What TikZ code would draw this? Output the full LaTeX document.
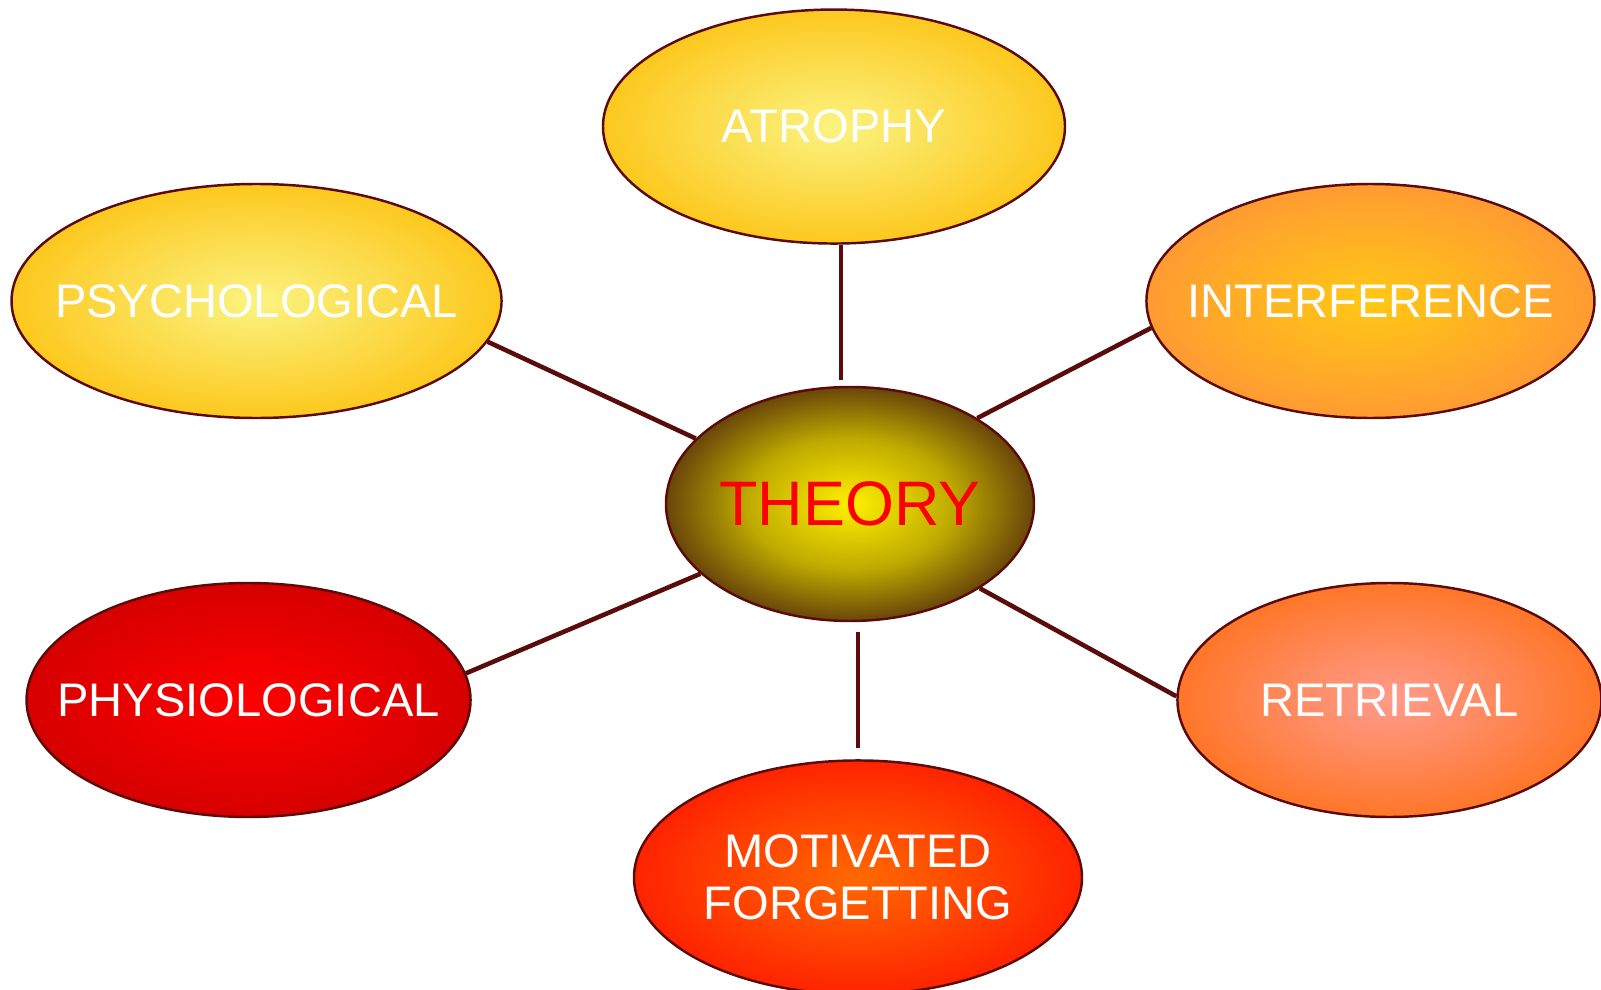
\documentclass[tikz,border=0pt]{standalone}
\usepackage{fontspec}
\setmainfont{Liberation Sans}
\usetikzlibrary{positioning, shapes.geometric}

\definecolor{rimcolor}{RGB}{92,10,10}
\definecolor{linkcolor}{RGB}{90,12,12}
\definecolor{goldin}{RGB}{251,243,128}
\definecolor{goldout}{RGB}{252,200,30}
\definecolor{amberin}{RGB}{255,200,20}
\definecolor{amberout}{RGB}{255,155,50}
\definecolor{salmonin}{RGB}{255,155,140}
\definecolor{salmonout}{RGB}{255,118,40}
\definecolor{flamein}{RGB}{255,105,0}
\definecolor{flameout}{RGB}{255,35,0}
\definecolor{scarletin}{RGB}{255,0,0}
\definecolor{scarletout}{RGB}{214,0,0}
\definecolor{theoryin}{RGB}{255,240,0}
\definecolor{theorymid}{RGB}{190,170,0}
\definecolor{theoryout}{RGB}{105,70,10}

\colorlet{glowin}{white}\colorlet{glowmid}{white}\colorlet{glowout}{white}
\pgfdeclareradialshading[glowin,glowmid,glowout]{glow}{\pgfpoint{0bp}{0bp}}{%
  color(0bp)=(glowin); color(14bp)=(glowmid); color(25bp)=(glowout); color(50bp)=(glowout)}

\begin{document}
\begin{tikzpicture}[
  node distance=1.4cm,
  %% ellipse with radial glow: #1 centre colour, #2 rim colour
  bubble/.style 2 args={ellipse, draw=rimcolor, line width=0.7pt,
               shading=glow,
               /utils/exec={\colorlet{glowin}{#1}\colorlet{glowout}{#2}\colorlet{glowmid}{#1!45!#2}},
               minimum height=2.34cm, inner xsep=-1cm, align=center,
               text=white, font=\fontsize{13.4}{14.7}\selectfont},
  link/.style={line width=1.3pt, draw=linkcolor}
]
\useasboundingbox (0,0) rectangle (16.01,-9.90);

%% ── Centre ───────────────────────────────────────────────────────────────
\node[bubble={theoryin}{theoryout}, minimum width=3.68cm,
      /utils/exec={\colorlet{glowmid}{theorymid}},
      text=red, font=\fontsize{17.9}{20}\selectfont] (theory) at (8.50,-5.04) {THEORY};

%% ── Outer ring ───────────────────────────────────────────────────────────
\node[bubble={goldin}{goldout}, minimum width=4.62cm,
      above=1.41cm of theory, xshift=-0.16cm] (atrophy) {ATROPHY};

\node[bubble={goldin}{goldout}, minimum width=4.90cm,
      left=1.62cm of theory, yshift=2.03cm] (psych) {PSYCHOLOGICAL};

\node[bubble={amberin}{amberout}, minimum width=4.48cm,
      right=1.10cm of theory, yshift=2.03cm] (interf) {INTERFERENCE};

\node[bubble={scarletin}{scarletout}, minimum width=4.44cm,
      left=1.93cm of theory, yshift=-1.96cm] (physio) {PHYSIOLOGICAL};

\node[bubble={salmonin}{salmonout}, minimum width=4.24cm,
      right=1.41cm of theory, yshift=-1.96cm] (retriev) {RETRIEVAL};

\node[bubble={flamein}{flameout}, minimum width=4.48cm,
      below=1.37cm of theory, xshift=0.08cm] (motiv) {MOTIVATED\\FORGETTING};

%% ── Spokes ───────────────────────────────────────────────────────────────
\draw[link, shorten >=0.06cm] ([xshift=0.07cm]atrophy.south) -- ([xshift=-0.09cm]theory.north);
\draw[link] (psych.-10)  -- (theory.157);
\draw[link] (theory.34)  -- (interf.187);
\draw[link] (physio.7)   -- (theory.205);
\draw[link] (theory.-33) -- (retriev.179);
\draw[link, shorten <=0.1cm, shorten >=0.11cm] ([xshift=0.08cm]theory.south) -- (motiv.north);

\end{tikzpicture}
\end{document}
